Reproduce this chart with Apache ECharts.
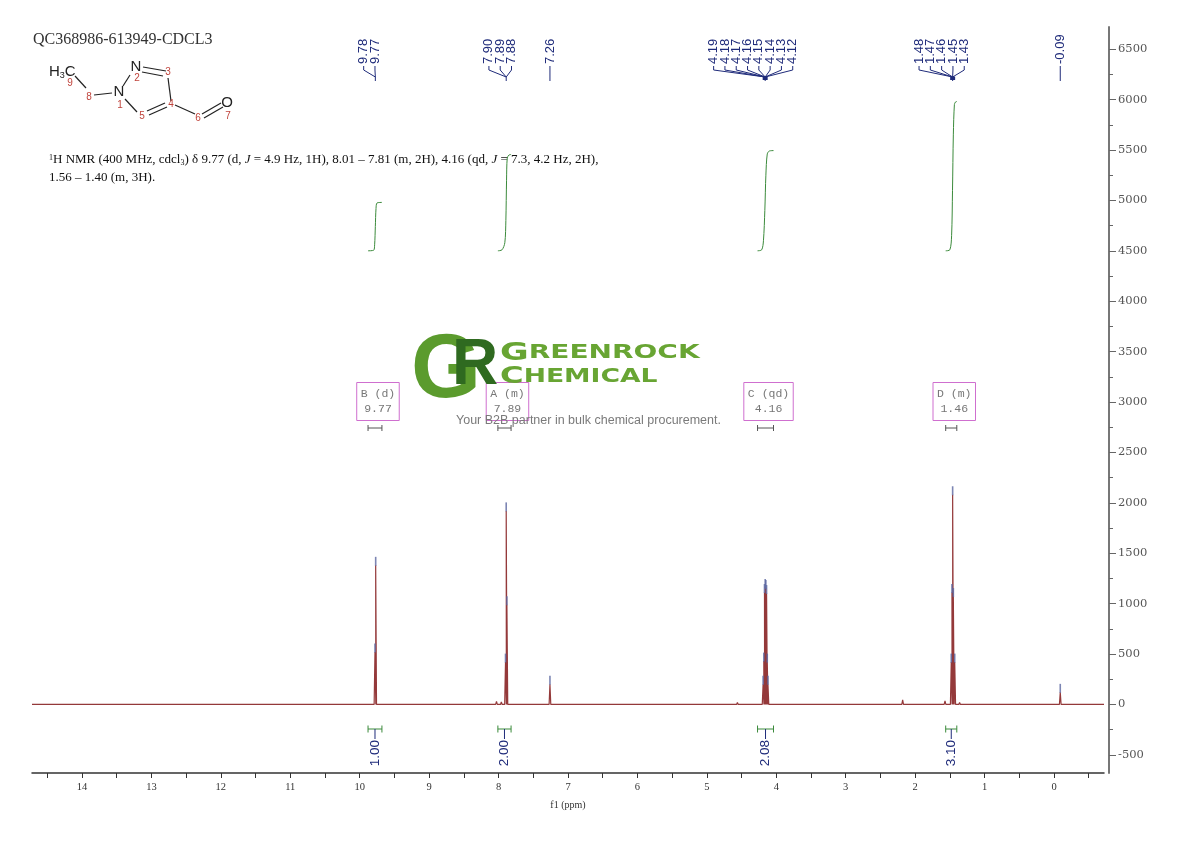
<!DOCTYPE html>
<html lang="en">
<head>
  <meta charset="UTF-8">
  <title>QC368986-613949-CDCL3</title>
  <style>
    body { margin: 0; padding: 0; background: #fff; }
    #main { width: 1190px; height: 841px; }
  </style>
</head>
<body>
  <div id="main"></div>
</body>
</html>
<script src="https://cdn.jsdelivr.net/npm/echarts@6.0.0/dist/echarts.min.js"></script>
<script>
// picked lines [ppm, intensity]
var peakLines = [
  [9.78, 520], [9.77, 1380],
  [7.90, 420], [7.89, 1920], [7.88, 990],
  [7.26, 200],
  [4.19, 200], [4.18, 430], [4.17, 1110], [4.16, 1160], [4.15, 1150], [4.14, 1100], [4.13, 420], [4.12, 200],
  [1.48, 420], [1.47, 1110], [1.46, 2080], [1.45, 1070], [1.43, 420],
  [-0.09, 120]
]
// small unlabelled bumps on the baseline
var minorBumps = [
  [8.03, 30], [7.96, 25], [4.56, 20], [4.45, 15], [3.36, 18], [2.18, 45], [1.57, 35], [1.36, 20]
]

// peak label groups (top)
var pickedLabels = [
  ['9.78', '9.77'],
  ['7.90', '7.89', '7.88'],
  ['7.26'],
  ['4.19', '4.18', '4.17', '4.16', '4.15', '4.14', '4.13', '4.12'],
  ['1.48', '1.47', '1.46', '1.45', '1.43'],
  ['-0.09']
]
var pickedAt = [9.775, 7.89, 7.26, 4.16, 1.46, -0.09]

// integrals
var integralRanges = [[9.88, 9.68], [8.01, 7.82], [4.27, 4.04], [1.56, 1.40]]
var integralValues = ['1.00', '2.00', '2.08', '3.10']
var integralB = [[9.88, 4500], [9.80, 4505], [9.785, 4560], [9.775, 4740], [9.765, 4920], [9.75, 4975], [9.68, 4980]]
var integralA = [[8.01, 4500], [7.95, 4510], [7.91, 4580], [7.895, 4800], [7.885, 5200], [7.875, 5420], [7.85, 5450], [7.82, 5455]]
var integralC = [[4.27, 4500], [4.21, 4510], [4.185, 4600], [4.165, 4900], [4.15, 5250], [4.13, 5460], [4.10, 5490], [4.04, 5494]]
var integralD = [[1.56, 4500], [1.50, 4510], [1.475, 4650], [1.462, 5100], [1.45, 5650], [1.435, 5950], [1.42, 5975], [1.40, 5981]]

// multiplet boxes
var multipletNames = ['B', 'A', 'C', 'D']
var multipletTypes = ['d', 'm', 'qd', 'm']
var multipletShifts = ['9.77', '7.89', '4.16', '1.46']

// axis ticks
var xTickLabels = [14, 13, 12, 11, 10, 9, 8, 7, 6, 5, 4, 3, 2, 1, 0]
var xTickMarks = [14.5, 14, 13.5, 13, 12.5, 12, 11.5, 11, 10.5, 10, 9.5, 9, 8.5, 8, 7.5, 7, 6.5, 6, 5.5, 5, 4.5, 4, 3.5, 3, 2.5, 2, 1.5, 1, 0.5, 0, -0.5]
var yTickLabels = [-500, 0, 500, 1000, 1500, 2000, 2500, 3000, 3500, 4000, 4500, 5000, 5500, 6000, 6500]
var yMinorMarks = [-250, 250, 750, 1250, 1750, 2250, 2750, 3250, 3750, 4250, 4750, 5250, 5750, 6250, 6750]

// layout
var NAVY = '#1f2b7a'
var GREEN = '#3b8a3b'
var LABEL_STEP = 11.3
var labelShift = [-6, -6, 0, -12, -11, 0]

function buildSpectrum() {
  var all = peakLines.concat(minorBumps).sort(function (a, b) { return b[0] - a[0] })
  var pts = [[14.72, 0]]
  all.forEach(function (d) {
    pts.push([d[0] + 0.012, 0], [d[0], d[1]], [d[0] - 0.012, 0])
  })
  pts.push([-0.72, 0])
  return pts
}

function seg(x1, y1, x2, y2, color, w) {
  return { type: 'line', shape: { x1: x1, y1: y1, x2: x2, y2: y2 }, style: { stroke: color, lineWidth: w || 1 } }
}

function atom(x, y, t, size, color) {
  return {
    type: 'text', x: x, y: y,
    style: { text: t, fontFamily: 'Liberation Sans', fontSize: size, fill: color, align: 'center', verticalAlign: 'middle' }
  }
}

function integralSeries(data) {
  return {
    type: 'line', data: data, smooth: 0.3, showSymbol: false, silent: true,
    lineStyle: { color: GREEN, width: 1 }, z: 3
  }
}

var chart = echarts.init(document.getElementById('main'))

var option = {
  animation: false,
  grid: { left: 32, right: 86, top: 27, bottom: 68 },
  xAxis: {
    type: 'value', inverse: true, min: -0.72, max: 14.72,
    name: 'f1 (ppm)', nameLocation: 'middle', nameGap: 27,
    nameTextStyle: { fontFamily: 'Liberation Serif', fontSize: 10, color: '#333' },
    axisLine: { onZero: false, lineStyle: { color: '#333', width: 1.5 } },
    axisTick: { customValues: xTickMarks, length: 5, lineStyle: { color: '#333' } },
    axisLabel: { customValues: xTickLabels, margin: 9, fontFamily: 'Liberation Serif', fontSize: 10.5, color: '#333' },
    splitLine: { show: false }
  },
  yAxis: [{
    type: 'value', position: 'right', offset: 5, min: -680, max: 6720,
    axisLine: { show: true, onZero: false, lineStyle: { color: '#777', width: 2 } },
    axisTick: { customValues: yTickLabels, length: 7, lineStyle: { color: '#666' } },
    axisLabel: {
      customValues: yTickLabels, margin: 9, fontFamily: 'DejaVu Serif', fontSize: 11.5, color: '#555',
      formatter: function (v) { return String(v) }
    },
    splitLine: { show: false }
  }, {
    type: 'value', position: 'right', offset: 5, min: -680, max: 6720,
    axisLine: { show: false, onZero: false },
    axisTick: { customValues: yMinorMarks, length: 4, lineStyle: { color: '#666' } },
    axisLabel: { show: false },
    splitLine: { show: false }
  }],
  series: [
    {
      type: 'line', data: buildSpectrum(), showSymbol: false, silent: true,
      lineStyle: { color: '#94393a', width: 1.2 }, z: 2
    },
    {
      type: 'scatter', data: peakLines, symbol: 'rect', symbolSize: [1.6, 9], symbolOffset: [0, -4],
      itemStyle: { color: '#5b67a0' }, silent: true, z: 4
    },
    integralSeries(integralB),
    integralSeries(integralA),
    integralSeries(integralC),
    integralSeries(integralD),
    {
      // peak labels at top
      type: 'custom', clip: false, silent: true, z: 5,
      data: pickedAt.map(function (p) { return [p, 0] }),
      renderItem: function (params, api) {
        var i = params.dataIndex
        var cx = api.coord([api.value(0), 0])[0]
        var labels = pickedLabels[i]
        var n = labels.length
        var mid = cx + labelShift[i]
        var children = []
        labels.forEach(function (t, k) {
          var lx = n === 1 ? cx : mid + (k - (n - 1) / 2) * LABEL_STEP
          children.push({
            type: 'text', x: lx, y: 64, rotation: Math.PI / 2,
            style: { text: t, fontFamily: 'Liberation Sans', fontSize: 13, fill: NAVY, align: 'left', verticalAlign: 'middle' }
          })
          if (n === 1) {
            children.push(seg(lx, 66, lx, 81, NAVY))
          } else {
            children.push(seg(lx, 66, lx, 70, NAVY))
            children.push(seg(lx, 70, cx, 77, NAVY))
          }
        })
        if (n > 1) children.push(seg(cx, 77, cx, 81, NAVY))
        if (n > 4) children.push({ type: 'rect', shape: { x: cx - 2.5, y: 76.5, width: 5, height: 3.5 }, style: { fill: NAVY } })
        return { type: 'group', children: children }
      }
    },
    {
      // integral bars and values at bottom
      type: 'custom', clip: false, silent: true, z: 5,
      data: integralRanges.map(function (r) { return [r[0], r[1]] }),
      renderItem: function (params, api) {
        var i = params.dataIndex
        var x1 = api.coord([api.value(0), 0])[0]
        var x2 = api.coord([api.value(1), 0])[0]
        var cx = (x1 + x2) / 2
        var y = 729
        return {
          type: 'group', children: [
            seg(x1, y, x2, y, GREEN),
            seg(x1, y - 3.5, x1, y + 3.5, GREEN),
            seg(x2, y - 3.5, x2, y + 3.5, GREEN),
            seg(cx, y, cx, 739, NAVY),
            {
              type: 'text', x: cx, y: 740, rotation: Math.PI / 2,
              style: { text: integralValues[i], fontFamily: 'Liberation Sans', fontSize: 13.5, fill: NAVY, align: 'right', verticalAlign: 'middle' }
            }
          ]
        }
      }
    },
    {
      // multiplet boxes
      type: 'custom', clip: false, silent: true, z: 5,
      data: integralRanges.map(function (r) { return [r[0], r[1]] }),
      renderItem: function (params, api) {
        var i = params.dataIndex
        var x1 = api.coord([api.value(0), 0])[0]
        var x2 = api.coord([api.value(1), 0])[0]
        var cx = (x1 + x2) / 2 + 3
        var y = 428
        return {
          type: 'group', children: [
            {
              type: 'text', x: cx, y: 401.5,
              style: {
                text: multipletNames[i] + ' (' + multipletTypes[i] + ')\n' + multipletShifts[i],
                fontFamily: 'Liberation Mono', fontSize: 11.5, fill: '#777', align: 'center', verticalAlign: 'middle',
                lineHeight: 15, padding: [4, 4, 4, 4], borderColor: '#cf6fcf', borderWidth: 1
              }
            },
            seg(x1, y, x2, y, '#555'),
            seg(x1, y - 3, x1, y + 3, '#555'),
            seg(x2, y - 3, x2, y + 3, '#555')
          ]
        }
      }
    }
  ],
  graphic: [
    {
      type: 'text', x: 33, y: 40,
      style: { text: 'QC368986-613949-CDCL3', fontFamily: 'Liberation Serif', fontSize: 16, fill: '#333', verticalAlign: 'middle' }
    },
    // structure
    { type: 'group', children: [
      seg(75, 76, 86, 88, '#222', 1.2),
      seg(94, 95, 112, 93, '#222', 1.2),
      seg(123, 86, 130, 75, '#222', 1.2),
      seg(143, 67, 166, 71, '#222', 1.2),
      seg(142, 72, 163, 76, '#222', 1.2),
      seg(168, 78, 171, 101, '#222', 1.2),
      seg(165, 103, 147, 111, '#222', 1.2),
      seg(167, 107, 149, 115, '#222', 1.2),
      seg(137, 112, 125, 99, '#222', 1.2),
      seg(175, 105, 195, 114, '#222', 1.2),
      seg(202, 114, 221, 103, '#222', 1.2),
      seg(204, 118, 223, 107, '#222', 1.2),
      { type: 'text', x: 49, y: 72, style: { text: 'H{s|3}C', fontFamily: 'Liberation Sans', fontSize: 15, fill: '#222', verticalAlign: 'middle',
        rich: { s: { fontSize: 9, fontFamily: 'Liberation Sans', fill: '#222', verticalAlign: 'bottom', padding: [7, 0, 0, 0] } } } },
      atom(119, 92, 'N', 15, '#222'),
      atom(136, 67, 'N', 15, '#222'),
      atom(227, 103, 'O', 15, '#222'),
      atom(70, 83, '9', 10, '#c0443c'),
      atom(89, 97, '8', 10, '#c0443c'),
      atom(120, 105, '1', 10, '#c0443c'),
      atom(137, 78, '2', 10, '#c0443c'),
      atom(168, 72, '3', 10, '#c0443c'),
      atom(171, 104, '4', 10, '#c0443c'),
      atom(142, 116, '5', 10, '#c0443c'),
      atom(198, 118, '6', 10, '#c0443c'),
      atom(228, 116, '7', 10, '#c0443c')
    ] },
    {
      type: 'text', x: 49, y: 160,
      style: {
        text: '{sup|1}H NMR (400 MHz, cdcl{sub|3}) δ 9.77 (d, {i|J} = 4.9 Hz, 1H), 8.01 – 7.81 (m, 2H), 4.16 (qd, {i|J} = 7.3, 4.2 Hz, 2H),',
        fontFamily: 'Liberation Serif', fontSize: 13, fill: '#111', verticalAlign: 'middle',
        rich: {
          sup: { fontSize: 8, fontFamily: 'Liberation Serif', fill: '#111', verticalAlign: 'top' },
          sub: { fontSize: 8, fontFamily: 'Liberation Serif', fill: '#111', verticalAlign: 'bottom' },
          i: { fontStyle: 'italic', fontFamily: 'Liberation Serif', fill: '#111', fontSize: 13 }
        }
      }
    },
    {
      type: 'text', x: 49, y: 178,
      style: { text: '1.56 – 1.40 (m, 3H).', fontFamily: 'Liberation Serif', fontSize: 13, fill: '#111', verticalAlign: 'middle' }
    },
    // watermark
    { type: 'text', x: 446, y: 372, z: 100, style: { text: 'G', fontFamily: 'Liberation Sans', fontWeight: 'bold', fontSize: 90, fill: '#5b9b2d', align: 'center', verticalAlign: 'middle' } },
    { type: 'text', x: 452, y: 366, z: 101, style: { text: 'R', fontFamily: 'Liberation Sans', fontWeight: 'bold', fontSize: 64, fill: '#2f6a20', align: 'left', verticalAlign: 'middle' } },
    { type: 'text', x: 500, y: 353, scaleX: 1.4, z: 100, style: { text: '{b|G}REENROCK', fontFamily: 'DejaVu Sans', fontWeight: 'bold', fontSize: 20, fill: '#68a533', verticalAlign: 'middle',
      rich: { b: { fontSize: 25, fontWeight: 'bold', fontFamily: 'DejaVu Sans', fill: '#68a533' } } } },
    { type: 'text', x: 500, y: 377, scaleX: 1.4, z: 100, style: { text: '{b|C}HEMICAL', fontFamily: 'DejaVu Sans', fontWeight: 'bold', fontSize: 19, fill: '#68a533', verticalAlign: 'middle',
      rich: { b: { fontSize: 23, fontWeight: 'bold', fontFamily: 'DejaVu Sans', fill: '#68a533' } } } },
    { type: 'text', x: 456, y: 421, z: 100, style: { text: 'Your B2B partner in bulk chemical procurement.', fontFamily: 'Liberation Sans', fontSize: 12.5, fill: '#7a7a7a', verticalAlign: 'middle' } }
  ]
}

chart.setOption(option)
</script>
